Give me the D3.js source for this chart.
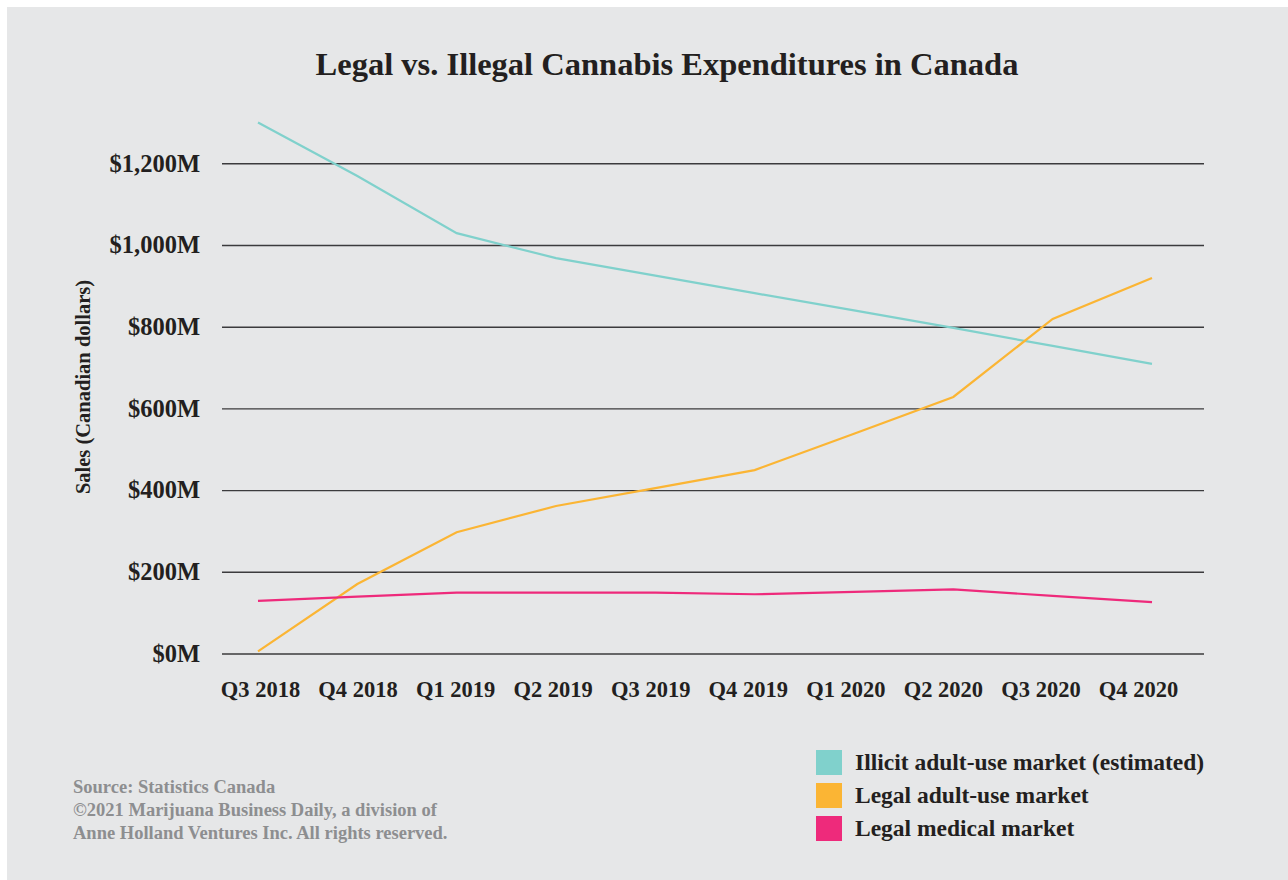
<!DOCTYPE html>
<html>
<head>
<meta charset="utf-8">
<script src="https://cdn.jsdelivr.net/npm/d3@7"></script>
<style>
  html, body { margin: 0; padding: 0; background: #ffffff; }
  svg { display: block; }
  text { font-family: "Liberation Serif", "DejaVu Serif", serif; }
</style>
</head>
<body>
<svg id="chart" width="1288" height="880"></svg>
<script>
// quarters on the x axis
var quarters = ["Q3 2018", "Q4 2018", "Q1 2019", "Q2 2019", "Q3 2019",
                "Q4 2019", "Q1 2020", "Q2 2020", "Q3 2020", "Q4 2020"];

// sales, millions of Canadian dollars
var illicit = [1300, 1169, 1029, 968, 925, 882, 840, 797, 753, 709];
var legalAdult = [5, 170, 297, 361, 405, 449, 538, 628, 819, 919];
var legalMedical = [129, 139, 149, 149, 149, 145, 151, 157, 141, 126];

var yTicks = [0, 200, 400, 600, 800, 1000, 1200];

var seriesNames = ["Illicit adult-use market (estimated)", "Legal adult-use market", "Legal medical market"];
var seriesColors = ["#80d1cc", "#fbb534", "#ee2a7b"];

var sourceLines = ["Source: Statistics Canada",
                   "\u00a92021 Marijuana Business Daily, a division of",
                   "Anne Holland Ventures Inc. All rights reserved."];

var svg = d3.select("#chart");

// gray panel
svg.append("rect")
  .attr("x", 7).attr("y", 7)
  .attr("width", 1281).attr("height", 873)
  .attr("fill", "#e6e7e8");

svg.append("text")
  .attr("x", 667).attr("y", 75)
  .attr("text-anchor", "middle")
  .attr("font-size", 32.5)
  .attr("font-weight", "bold")
  .attr("fill", "#231f20")
  .text("Legal vs. Illegal Cannabis Expenditures in Canada");

var y = d3.scaleLinear()
  .domain([0, 1200])
  .range([653.5, 163.3]);

// data points sit a little wider than the labels in the original
var x = d3.scalePoint()
  .domain(quarters)
  .range([258, 1152]);

var xLabels = d3.scalePoint()
  .domain(quarters)
  .range([260, 1138]);

// grid lines + y labels
var yAxis = d3.axisLeft(y)
  .tickValues(yTicks)
  .tickSize(-(1204 - 222))
  .tickPadding(22)
  .tickFormat(d => "$" + d3.format(",")(d) + "M");

var gy = svg.append("g")
  .attr("transform", "translate(222,0)")
  .call(yAxis);
gy.select(".domain").remove();
gy.selectAll(".tick line")
  .attr("stroke", "#3b3b3d")
  .attr("stroke-width", 1.4);
gy.selectAll(".tick text")
  .attr("font-size", 24.5)
  .attr("font-weight", "bold")
  .attr("fill", "#231f20")
  .attr("font-family", "Liberation Serif, serif");

var xAxis = d3.axisBottom(xLabels)
  .tickSize(0)
  .tickPadding(0);

var gx = svg.append("g")
  .attr("transform", "translate(0,681)")
  .call(xAxis);
gx.select(".domain").remove();
gx.selectAll(".tick text")
  .attr("font-size", 22.5)
  .attr("font-weight", "bold")
  .attr("fill", "#231f20")
  .attr("font-family", "Liberation Serif, serif");

svg.append("text")
  .attr("transform", "translate(90,387) rotate(-90)")
  .attr("text-anchor", "middle")
  .attr("font-size", 20.5)
  .attr("font-weight", "bold")
  .attr("fill", "#231f20")
  .text("Sales (Canadian dollars)");

var line = d3.line()
  .x((d, i) => x(quarters[i]))
  .y(d => y(d));

var allSeries = [illicit, legalAdult, legalMedical];

svg.selectAll("path.series")
  .data(allSeries)
  .enter()
  .append("path")
  .attr("class", "series")
  .attr("d", line)
  .attr("fill", "none")
  .attr("stroke", (d, i) => seriesColors[i])
  .attr("stroke-width", 2.2);

// legend
var legend = svg.selectAll("g.legend")
  .data(seriesNames)
  .enter()
  .append("g")
  .attr("class", "legend")
  .attr("transform", (d, i) => "translate(816," + (750 + i * 33) + ")");

legend.append("rect")
  .attr("width", 26).attr("height", 25)
  .attr("fill", (d, i) => seriesColors[i]);

legend.append("text")
  .attr("x", 39).attr("y", 20)
  .attr("font-size", 23.5)
  .attr("font-weight", "bold")
  .attr("fill", "#231f20")
  .text(d => d);

svg.selectAll("text.source")
  .data(sourceLines)
  .enter()
  .append("text")
  .attr("class", "source")
  .attr("x", 73)
  .attr("y", (d, i) => 793 + i * 23)
  .attr("font-size", 18.5)
  .attr("font-weight", "bold")
  .attr("fill", "#8d8e90")
  .text(d => d);
</script>
</body>
</html>
